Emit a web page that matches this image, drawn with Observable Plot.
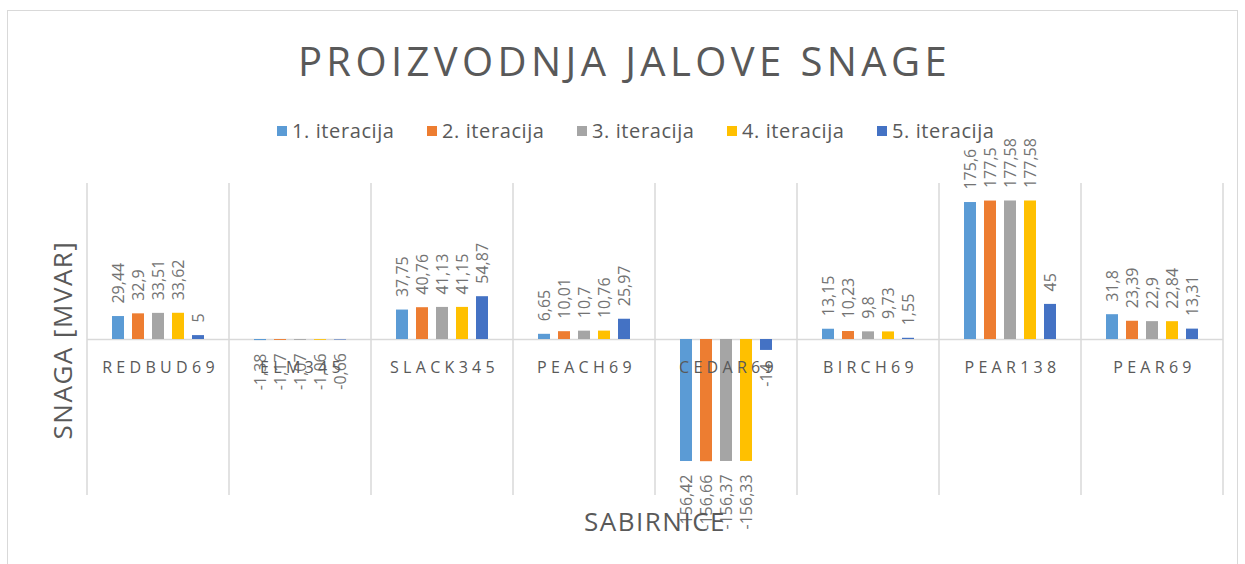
<!DOCTYPE html>
<html>
<head>
<meta charset="utf-8">
<script src="https://cdn.jsdelivr.net/npm/d3@7"></script>
<script src="https://cdn.jsdelivr.net/npm/@observablehq/plot@0.6"></script>
<style>
  html, body { margin: 0; padding: 0; background: #fff; }
  #wrap { position: relative; width: 1245px; height: 564px; overflow: hidden; font-family: "Open Sans", sans-serif; }
  #border { position: absolute; left: 7px; top: 10px; width: 1231px; height: 600px; border: 1px solid #D9D9D9; box-sizing: border-box; }
  #title { position: absolute; left: 2px; width: 1245px; top: 33px; text-align: center; font-size: 40px; font-weight: 400; letter-spacing: 4.4px; color: #595959; }
  #legend { position: absolute; top: 117px; left: 277px; display: flex; font-size: 20px; letter-spacing: 0.6px; color: #595959; }
  .li { display: flex; align-items: center; width: 150px; white-space: nowrap; }
  .sw { width: 10px; height: 10px; margin-right: 5px; }
  #ytitle { position: absolute; left: 62px; top: 340px; transform: translate(-50%, -50%) rotate(-90deg); font-size: 26px; letter-spacing: 1.5px; color: #595959; white-space: nowrap; }
  #xtitle { position: absolute; left: 655px; top: 521px; transform: translate(-50%, -50%); font-size: 26px; letter-spacing: 1.5px; color: #595959; white-space: nowrap; }
  #chart { position: absolute; left: 0; top: 0; }
</style>
</head>
<body>
<div id="wrap">
  <div id="border"></div>
  <div id="chart"></div>
  <div id="title">PROIZVODNJA JALOVE SNAGE</div>
  <div id="legend"></div>
  <div id="ytitle">SNAGA [MVAR]</div>
  <div id="xtitle">SABIRNICE</div>
</div>
<script>
const categories = ["REDBUD69", "ELM345", "SLACK345", "PEACH69", "CEDAR69", "BIRCH69", "PEAR138", "PEAR69"];
const seriesNames = ["1. iteracija", "2. iteracija", "3. iteracija", "4. iteracija", "5. iteracija"];
const seriesColors = ["#5B9BD5", "#ED7D31", "#A5A5A5", "#FFC000", "#4472C4"];
const iter1 = [29.44, -1.38, 37.75, 6.65, -156.42, 13.15, 175.6, 31.8];
const iter2 = [32.9, -1.17, 40.76, 10.01, -156.66, 10.23, 177.5, 23.39];
const iter3 = [33.51, -1.07, 41.13, 10.7, -156.37, 9.8, 177.58, 22.9];
const iter4 = [33.62, -1.06, 41.15, 10.76, -156.33, 9.73, 177.58, 22.84];
const iter5 = [5, -0.66, 54.87, 25.97, -14, 1.55, 45, 13.31];
const seriesValues = [iter1, iter2, iter3, iter4, iter5];

const data = [];
categories.forEach((c, i) => {
  seriesNames.forEach((s, j) => {
    data.push({cat: c, series: s, value: seriesValues[j][i]});
  });
});
const fmt = v => String(v).replace(".", ",");

// legend
const legend = document.getElementById("legend");
seriesNames.forEach((s, j) => {
  const item = document.createElement("div");
  item.className = "li";
  const sw = document.createElement("div");
  sw.className = "sw";
  sw.style.background = seriesColors[j];
  const t = document.createElement("span");
  t.textContent = s;
  item.appendChild(sw); item.appendChild(t);
  legend.appendChild(item);
});

const plot = Plot.plot({
  width: 1245,
  height: 564,
  marginLeft: 84,
  marginRight: 20,
  marginTop: 183,
  marginBottom: 69,
  style: {background: "transparent", fontFamily: "Open Sans, sans-serif"},
  fx: {domain: categories, padding: 0, axis: null},
  x: {domain: seriesNames, paddingInner: 0.38, paddingOuter: 1.08, axis: null},
  y: {domain: [-200, 200], axis: null},
  color: {domain: seriesNames, range: seriesColors},
  marks: [
    Plot.ruleY([0], {stroke: "#D9D9D9", strokeWidth: 1.5}),
    Plot.barY(data, {fx: "cat", x: "series", y: "value", fill: "series"}),
    Plot.text(data.filter(d => d.value >= 0), {
      fx: "cat", x: "series", y: "value", text: d => fmt(d.value),
      rotate: -90, textAnchor: "start", dy: -13, fontSize: 16, fill: "#737373"
    }),
    Plot.text(data.filter(d => d.value < 0), {
      fx: "cat", x: "series", y: "value", text: d => fmt(d.value),
      rotate: -90, textAnchor: "end", dy: 13, fontSize: 16, fill: "#737373"
    }),
    Plot.text(categories, {
      fx: d => d, y: d => 0, text: d => d, dy: 28, dx: 2, fontSize: 16, fill: "#595959"
    })
  ]
});

// letter-spaced category labels
d3.select(plot).selectAll("text")
  .filter(function() { return categories.includes(this.textContent); })
  .style("letter-spacing", "4.3px");

// category separators drawn from the fx and y scales
const fxs = plot.scale("fx");
const ys = plot.scale("y");
const bw = fxs.bandwidth;
const xs = categories.map(c => fxs.apply(c));
xs.push(fxs.apply(categories[categories.length - 1]) + bw);
const y0 = ys.apply(200), y1 = ys.apply(-200);
d3.select(plot).insert("g", ":first-child")
  .attr("stroke", "#D9D9D9").attr("stroke-width", 1.5)
  .selectAll("line").data(xs).join("line")
  .attr("x1", d => d).attr("x2", d => d)
  .attr("y1", y0).attr("y2", y1);

document.getElementById("chart").appendChild(plot);
</script>
</body>
</html>
